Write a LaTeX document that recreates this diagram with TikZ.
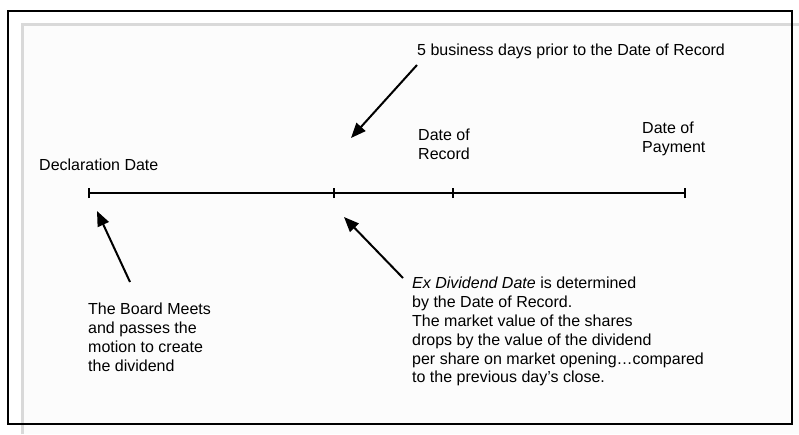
\documentclass[tikz,border=0pt]{standalone}
\usepackage{fontspec}
\setmainfont{Liberation Sans}
\usetikzlibrary{arrows.meta}

\tikzset{
    lbl/.style={inner sep=0pt, font=\fontsize{16}{18.8}\selectfont, align=left},
    pointer/.style={line width=2pt, -{Triangle[length=15pt, width=12pt]}},
    tickmark/.style={line width=2pt},
}

\begin{document}
\begin{tikzpicture}[x=1pt, y=-1pt]
    \useasboundingbox (0, 0) rectangle (799, 434);
    % page edge behind the frame
    \fill[black!1] (22, 24) rectangle (799, 434);
    \draw[black!15, line width=3pt] (22, 434) -- (22, 24) -- (799, 24);
    \draw[line width=2pt] (8, 11) rectangle (792, 424);

    % time line
    \coordinate (decl) at (89, 193);
    \coordinate (exdiv) at (334, 193);
    \coordinate (rec) at (453, 193);
    \coordinate (pay) at (685, 193);
    \draw[tickmark] (decl) -- (pay);
    \foreach \p in {decl, exdiv, rec, pay}
        \draw[tickmark] ([yshift=-5pt]\p) -- ([yshift=5pt]\p);

    % labels
    \node[lbl, anchor=base west] (decltxt) at (39, 170) {Declaration Date};
    \node[lbl, anchor=base west] (fivedays) at (417, 55) {5 business days prior to the Date of Record};
    \node[lbl, anchor=north west] (rectxt) at (418, 129) {Date of\\Record};
    \node[lbl, anchor=north west] (paytxt) at (642, 122) {Date of\\Payment};
    \node[lbl, anchor=north west] (boardtxt) at (88, 303) {The Board Meets\\and passes the\\motion to create\\the dividend};
    \node[lbl, anchor=north west] (exdivtxt) at (412, 277) {\textit{Ex Dividend Date} is determined\\by the Date of Record.\\The market value of the shares\\drops by the value of the dividend\\per share on market opening\ldots compared\\to the previous day’s close.};

    % pointers
    \coordinate (fivetail) at (417, 65);
    \coordinate (fivetip) at (351, 138);
    \coordinate (boardtail) at (130, 282);
    \coordinate (boardtip) at (97, 211);
    \coordinate (exdivtail) at (403, 278);
    \coordinate (exdivtip) at (344, 217);
    \draw[pointer] (fivetail) -- (fivetip);
    \draw[pointer] (boardtail) -- (boardtip);
    \draw[pointer] (exdivtail) -- (exdivtip);
\end{tikzpicture}
\end{document}
